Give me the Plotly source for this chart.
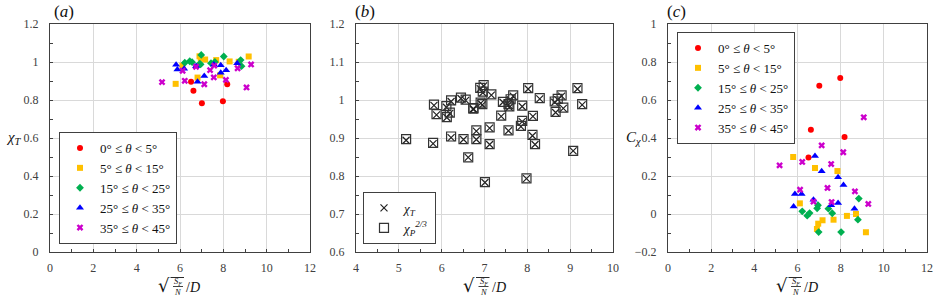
import plotly.graph_objects as go

# ---------------- data ----------------
group_names = ["0° ≤ <i>θ</i> < 5°", "5° ≤ <i>θ</i> < 15°", "15° ≤ <i>θ</i> < 25°",
               "25° ≤ <i>θ</i> < 35°", "35° ≤ <i>θ</i> < 45°"]

x_g0 = [6.51, 6.62, 7.01, 7.98, 8.18]
chiT_g0 = [0.896, 0.849, 0.783, 0.793, 0.883]
C_g0 = [0.298, 0.444, 0.675, 0.716, 0.405]

x_g1 = [5.80, 6.11, 6.81, 6.90, 6.96, 7.16, 7.67, 7.85, 8.29, 8.71, 9.17]
chiT_g1 = [0.885, 0.981, 0.918, 1.030, 1.019, 1.013, 1.010, 0.930, 1.003, 1.001, 1.029]
C_g1 = [0.300, 0.056, 0.242, -0.079, -0.051, -0.033, -0.030, 0.226, -0.010, 0.000, -0.096]

x_g2 = [6.22, 6.45, 6.56, 6.91, 6.95, 6.98, 7.43, 7.61, 8.02, 8.80, 8.84]
chiT_g2 = [0.996, 1.004, 0.999, 0.991, 0.987, 1.037, 0.994, 1.000, 1.029, 1.010, 0.978]
C_g2 = [0.014, -0.009, 0.005, 0.030, 0.046, -0.095, 0.028, 0.004, -0.095, -0.030, 0.081]

x_g3 = [5.82, 5.88, 6.19, 6.74, 6.81, 7.12, 7.56, 7.88, 7.88, 8.13, 8.64]
chiT_g3 = [0.986, 0.961, 0.965, 0.977, 0.896, 0.926, 0.987, 0.983, 0.943, 0.957, 0.994]
C_g3 = [0.040, 0.105, 0.105, 0.075, 0.305, 0.225, 0.046, 0.058, 0.193, 0.153, 0.028]

x_g4 = [5.17, 6.12, 6.22, 6.74, 7.12, 7.39, 7.56, 7.58, 8.12, 8.66, 9.07, 9.28]
chiT_g4 = [0.894, 0.954, 0.901, 0.975, 0.883, 0.957, 0.919, 0.981, 0.906, 0.967, 0.866, 0.987]
C_g4 = [0.256, 0.128, 0.274, 0.065, 0.361, 0.137, 0.263, 0.063, 0.325, 0.119, 0.509, 0.053]

# panel (b): all points
x_all = [5.17, 5.80, 5.82, 5.88, 6.11, 6.12, 6.19, 6.22, 6.22, 6.45, 6.56, 6.51, 6.62,
         6.74, 6.74, 6.81, 6.81, 6.90, 6.91, 6.95, 6.98, 6.96, 7.01, 7.12, 7.12, 7.16,
         7.39, 7.43, 7.56, 7.56, 7.58, 7.61, 7.67, 7.88, 7.88, 7.85, 7.98, 8.02, 8.12,
         8.13, 8.18, 8.29, 8.64, 8.66, 8.71, 8.80, 8.84, 9.07, 9.17, 9.28]
chiT_all = [0.894, 0.885, 0.986, 0.961, 0.981, 0.954, 0.965, 0.996, 0.901, 1.004, 0.999,
            0.896, 0.849, 0.977, 0.975, 0.918, 0.896, 1.030, 0.991, 0.987, 1.037, 1.019,
            0.783, 0.926, 0.883, 1.013, 0.957, 0.994, 0.919, 0.987, 0.981, 1.000, 1.010,
            0.983, 0.943, 0.930, 0.793, 1.029, 0.906, 0.957, 0.883, 1.003, 0.994, 0.967,
            1.001, 1.010, 0.978, 0.866, 1.029, 0.987]
chiP23_all = [0.897, 0.887, 0.988, 0.963, 0.984, 0.955, 0.967, 0.999, 0.904, 1.006, 1.001,
              0.897, 0.849, 0.979, 0.977, 0.920, 0.897, 1.032, 0.993, 0.989, 1.039, 1.022,
              0.784, 0.928, 0.884, 1.015, 0.959, 0.995, 0.920, 0.989, 0.983, 1.002, 1.012,
              0.985, 0.945, 0.932, 0.794, 1.031, 0.908, 0.958, 0.884, 1.005, 0.996, 0.969,
              1.003, 1.012, 0.980, 0.866, 1.031, 0.989]

groups_x = [x_g0, x_g1, x_g2, x_g3, x_g4]
groups_chiT = [chiT_g0, chiT_g1, chiT_g2, chiT_g3, chiT_g4]
groups_C = [C_g0, C_g1, C_g2, C_g3, C_g4]

colors = ["#FF0000", "#FFC000", "#00B050", "#0000FF", "#CC00CC"]
symbols = ["circle", "square", "diamond", "triangle-up", "x"]
sizes = [6, 6, 6, 7, 6]

# ---------------- figure ----------------
W, H = 938, 298

def fx(p):
    return p / W

def fy(p):
    return 1 - p / H

fig = go.Figure()

for i in range(5):
    fig.add_trace(go.Scatter(
        x=groups_x[i], y=groups_chiT[i], mode="markers", name=group_names[i],
        marker=dict(symbol=symbols[i], color=colors[i], size=sizes[i], line=dict(width=0)),
        xaxis="x", yaxis="y", legend="legend"))

fig.add_trace(go.Scatter(
    x=x_all, y=chiT_all, mode="markers", name="<i>χ<sub>T</sub></i>",
    marker=dict(symbol="x-thin-open", color="#222222", size=7, line=dict(width=1.2, color="#222222")),
    xaxis="x2", yaxis="y2", legend="legend2"))
fig.add_trace(go.Scatter(
    x=x_all, y=chiP23_all, mode="markers", name="<i>χ<sub>P</sub><sup>2/3</sup></i>",
    marker=dict(symbol="square-open", color="#333333", size=9, line=dict(width=1.2, color="#333333")),
    xaxis="x2", yaxis="y2", legend="legend2"))

for i in range(5):
    fig.add_trace(go.Scatter(
        x=groups_x[i], y=groups_C[i], mode="markers", name=group_names[i],
        marker=dict(symbol=symbols[i], color=colors[i], size=sizes[i], line=dict(width=0)),
        xaxis="x3", yaxis="y3", legend="legend3"))

ydom = [fy(252), fy(24)]
tickfont = dict(family="Liberation Serif", size=12, color="#404040")
axcommon = dict(showline=True, mirror=True, linecolor="#404040", linewidth=1.3,
                showgrid=True, gridcolor="#D9D9D9", gridwidth=1, zeroline=False,
                ticks="inside", ticklen=3, tickcolor="#404040", tickfont=tickfont,
                automargin=False)

def xax(a, b, rng, dt, mdt, anchor):
    return dict(domain=[fx(a), fx(b)], range=rng, dtick=dt, tick0=rng[0], anchor=anchor,
                minor=dict(ticks="inside", dtick=mdt, ticklen=3, tickcolor="#404040", showgrid=False),
                ticklabelstandoff=4, **axcommon)

def yax(rng, dt, mdt, anchor):
    return dict(domain=ydom, range=rng, dtick=dt, tick0=rng[0], anchor=anchor,
                minor=dict(ticks="inside", dtick=mdt, ticklen=3, tickcolor="#404040", showgrid=False),
                ticklabelstandoff=8, **axcommon)

fig.update_layout(
    template="none",
    width=W, height=H, margin=dict(l=0, r=0, t=0, b=0, autoexpand=False),
    paper_bgcolor="white", plot_bgcolor="white", showlegend=True,
    xaxis=xax(50, 310, [0, 12], 2, 1, "y"),
    yaxis=yax([0, 1.2], 0.2, 0.1, "x"),
    xaxis2=xax(356, 613, [4, 10], 1, 0.5, "y2"),
    yaxis2=yax([0.6, 1.2], 0.1, 0.05, "x2"),
    xaxis3=xax(668, 927, [0, 12], 2, 1, "y3"),
    yaxis3=yax([-0.2, 1.0], 0.2, 0.1, "x3"),
)

legfont = dict(family="Liberation Serif", size=13, color="#111111")
legcommon = dict(bgcolor="white", bordercolor="#404040", borderwidth=1, font=legfont,
                 xanchor="left", itemsizing="trace", tracegroupgap=0, itemwidth=30)
fig.update_layout(
    legend=dict(x=fx(59), y=fy(244), yanchor="bottom", **legcommon),
    legend2=dict(x=fx(363), y=fy(244), yanchor="bottom", **legcommon),
    legend3=dict(x=fx(677), y=fy(32), yanchor="top", **legcommon),
)

# annotations: panel labels, axis titles
annfont = dict(family="Liberation Serif", size=17, color="#111111")
for txt, px in [("(<i>a</i>)", 52), ("(<i>b</i>)", 353), ("(<i>c</i>)", 665)]:
    fig.add_annotation(xref="paper", yref="paper", x=fx(px), y=fy(11), xanchor="left",
                       yanchor="middle", showarrow=False, font=annfont, text=txt)

# x-axis title: radical with a stacked fraction, then "/D"
tf = "Liberation Serif"
for cx in [179, 484.5, 797]:
    fig.add_annotation(xref="paper", yref="paper", x=fx(cx - 8), y=fy(285.5), xanchor="right",
                       yanchor="middle", showarrow=False, text="√", borderpad=0,
                       font=dict(family="DejaVu Serif", size=18, color="#111111"))
    fig.add_annotation(xref="paper", yref="paper", x=fx(cx - 1), y=fy(286.5), xanchor="center",
                       yanchor="middle", showarrow=False, borderpad=0,
                       text="<i>S<sub>F</sub></i><br><i>N</i>",
                       font=dict(family=tf, size=8.5, color="#111111"))
    fig.add_shape(type="line", xref="paper", yref="paper", x0=fx(cx - 6), x1=fx(cx + 4),
                  y0=fy(286.5), y1=fy(286.5), line=dict(color="#111111", width=0.8))
    fig.add_shape(type="line", xref="paper", yref="paper", x0=fx(cx - 8.5), x1=fx(cx + 5),
                  y0=fy(277.5), y1=fy(277.5), line=dict(color="#111111", width=0.9))
    fig.add_annotation(xref="paper", yref="paper", x=fx(cx + 6), y=fy(287), xanchor="left",
                       yanchor="middle", showarrow=False, text="/<i>D</i>", borderpad=0,
                       font=dict(family=tf, size=14, color="#111111"))

fig.add_annotation(xref="paper", yref="paper", x=fx(14), y=fy(138), xanchor="center",
                   yanchor="middle", showarrow=False, text="<i>χ<sub>T</sub></i>",
                   font=dict(family=tf, size=15, color="#111111"))
fig.add_annotation(xref="paper", yref="paper", x=fx(633), y=fy(138), xanchor="center",
                   yanchor="middle", showarrow=False, text="<i>C<sub>χ</sub></i>",
                   font=dict(family=tf, size=15, color="#111111"))

fig.write_html("out.html", config={"displayModeBar": False},
               post_script="document.body.style.margin='0';document.body.style.overflow='hidden';")
